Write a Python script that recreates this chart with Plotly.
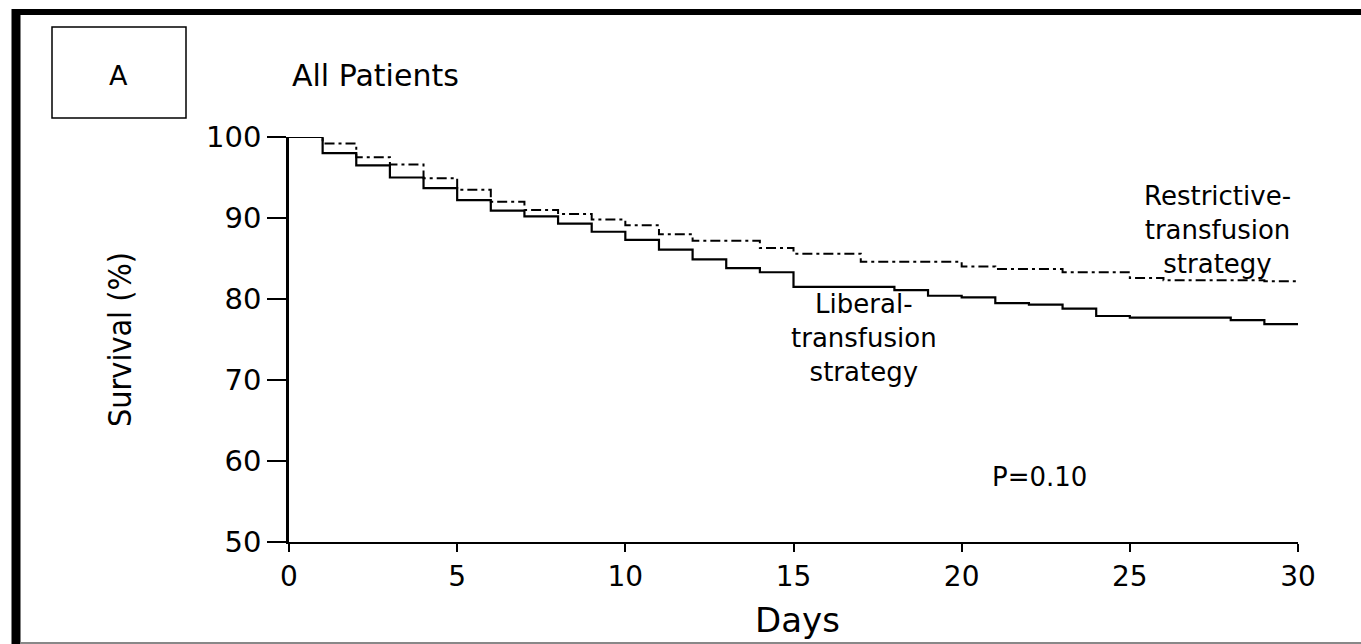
import plotly.graph_objects as go

# Kaplan-Meier step data (days, survival %)
liberal_days = [0, 1, 2, 3, 4, 5, 6, 7, 8, 9, 10, 11, 12, 13, 14, 15, 18, 19, 20, 21, 22, 23, 24, 25, 28, 29, 30]
liberal_surv = [100, 98.0, 96.5, 95.0, 93.7, 92.2, 90.9, 90.2, 89.3, 88.3, 87.3, 86.1, 84.9, 83.8, 83.3, 81.5, 81.1, 80.4, 80.2, 79.5, 79.3, 78.8, 77.9, 77.7, 77.4, 76.9, 76.9]

restrictive_days = [0, 1, 2, 3, 4, 5, 6, 7, 8, 9, 10, 11, 12, 14, 15, 17, 20, 21, 23, 25, 26, 29, 30]
restrictive_surv = [100, 99.2, 97.5, 96.6, 94.9, 93.5, 92.0, 91.0, 90.5, 89.8, 89.1, 88.0, 87.2, 86.3, 85.6, 84.6, 84.0, 83.7, 83.3, 82.6, 82.3, 82.2, 82.2]

x_ticks = [0, 5, 10, 15, 20, 25, 30]
y_ticks = [50, 60, 70, 80, 90, 100]

FONT = "DejaVu Sans, Verdana, Liberation Sans, Arial, sans-serif"
NARROW = "Liberation Sans Narrow, Arial Narrow, DejaVu Sans Condensed, DejaVu Sans, sans-serif"

W, H = 1361, 644
L, R, T, B = 289, 1298, 137, 542


def px(xp):
    return (xp - L) / (R - L)


def py(yp):
    return (B - yp) / (B - T)


fig = go.Figure()
fig.add_trace(go.Scatter(
    x=restrictive_days, y=restrictive_surv, mode="lines", line_shape="hv",
    line=dict(color="black", width=2, dash="10px,4px,3px,4px"),
    name="Restrictive-transfusion strategy", showlegend=False, hoverinfo="x+y"))
fig.add_trace(go.Scatter(
    x=liberal_days, y=liberal_surv, mode="lines", line_shape="hv",
    line=dict(color="black", width=2.2),
    name="Liberal-transfusion strategy", showlegend=False, hoverinfo="x+y"))

shapes = [
    # outer frame: top and left thick borders
    dict(type="line", xref="paper", yref="paper", x0=px(12), x1=px(1361), y0=py(12), y1=py(12),
         line=dict(color="black", width=6)),
    dict(type="line", xref="paper", yref="paper", x0=px(16), x1=px(16), y0=py(9), y1=py(644),
         line=dict(color="black", width=9)),
    dict(type="line", xref="paper", yref="paper", x0=px(20), x1=px(1361), y0=py(643), y1=py(643),
         line=dict(color="#888888", width=2)),
    # panel label box
    dict(type="rect", xref="paper", yref="paper", x0=px(52), x1=px(186), y0=py(118), y1=py(27),
         line=dict(color="black", width=1.5), fillcolor="rgba(0,0,0,0)"),
]

annotations = [
    dict(text="A", xref="paper", yref="paper", x=px(118), y=py(75), showarrow=False,
         xanchor="center", yanchor="middle", font=dict(family=FONT, size=27, color="black")),
    dict(text="All Patients", xref="paper", yref="paper", x=px(290), y=py(75), showarrow=False,
         xanchor="left", yanchor="middle", font=dict(family=FONT, size=30, color="black")),
    dict(text="Restrictive-<br>transfusion<br>strategy", xref="x", yref="y", x=27.6, y=88.5,
         showarrow=False, xanchor="center", yanchor="middle", align="center",
         font=dict(family=FONT, size=26, color="black")),
    dict(text="Liberal-<br>transfusion<br>strategy", xref="x", yref="y", x=17.1, y=75.2,
         showarrow=False, xanchor="center", yanchor="middle", align="center",
         font=dict(family=FONT, size=26, color="black")),
    dict(text="P=0.10", xref="x", yref="y", x=22.3, y=58.0, showarrow=False,
         xanchor="center", yanchor="middle", font=dict(family=FONT, size=26, color="black")),
    dict(text="Days", xref="paper", yref="paper", x=px(797), y=py(620), showarrow=False,
         xanchor="center", yanchor="middle", font=dict(family=FONT, size=34, color="black")),
    dict(text="Survival (%)", xref="paper", yref="paper", x=px(120), y=py(340), showarrow=False,
         xanchor="center", yanchor="middle", textangle=-90,
         font=dict(family=NARROW, size=32, color="black")),
]

fig.update_layout(
    width=W, height=H,
    margin=dict(l=L, r=W - R, t=T, b=H - B, autoexpand=False),
    paper_bgcolor="white", plot_bgcolor="white",
    shapes=shapes, annotations=annotations,
    showlegend=False,
)
fig.update_xaxes(
    range=[0, 30], tickvals=x_ticks, ticktext=[str(v) for v in x_ticks],
    showgrid=False, zeroline=False, showline=True, linecolor="black", linewidth=2,
    ticks="outside", ticklen=8, tickwidth=2, tickcolor="black",
    tickfont=dict(family=FONT, size=28, color="black"), automargin=False,
)
fig.update_yaxes(
    range=[50, 100], tickvals=y_ticks, ticktext=[str(v) for v in y_ticks],
    showgrid=False, zeroline=False, showline=True, linecolor="black", linewidth=2.5,
    ticks="outside", ticklen=19, tickwidth=2, tickcolor="black",
    tickfont=dict(family=FONT, size=29, color="black"), automargin=False,
)

fig.write_html(
    "out.html",
    config={"displayModeBar": False},
    post_script="document.body.style.margin='0';document.body.style.overflow='hidden';",
)
